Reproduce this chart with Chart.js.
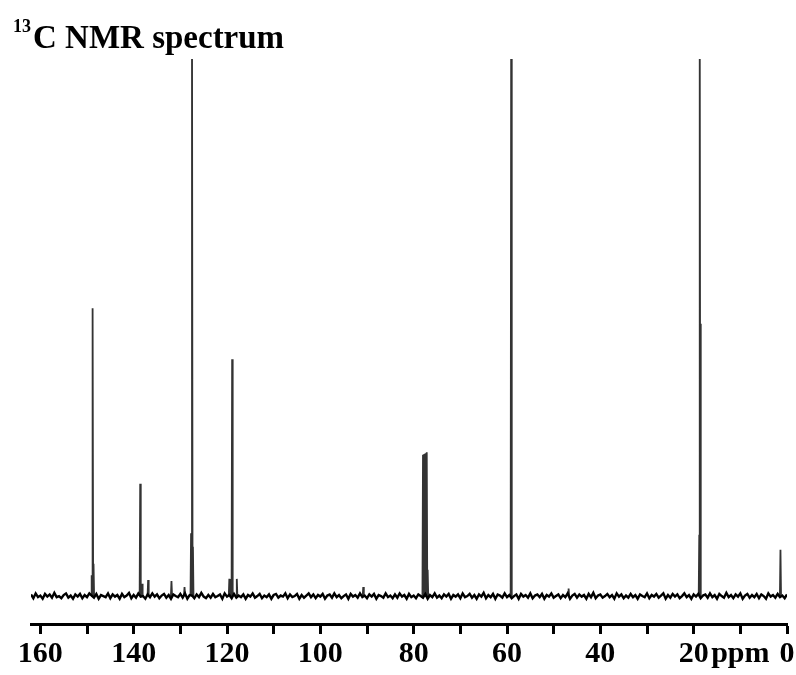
<!DOCTYPE html>
<html>
<head>
<meta charset="utf-8">
<script src="https://cdn.jsdelivr.net/npm/chart.js@4.4.1/dist/chart.umd.min.js"></script>
<style>
    html, body { margin: 0; padding: 0; background: #fff; }
    #wrap { position: relative; width: 796px; height: 675px; }
    .title { position: absolute; font-family: 'Liberation Serif', 'Times New Roman', serif; font-weight: bold; color: #000; white-space: nowrap; }
    #t13 { left: 13px; top: 17px; font-size: 18px; line-height: 18px; }
    #tMain { left: 33px; top: 21px; font-size: 33px; line-height: 33px; }
</style>
</head>
<body>
<div id="wrap">
    <canvas id="nmrChart" width="796" height="675"></canvas>
    <div class="title" id="t13">13</div>
    <div class="title" id="tMain">C NMR spectrum</div>
</div>
<script>
// peak positions (ppm) and heights (baseline = 0, top of plot = 100; >100 is off scale)
const peakPpm = [149.0, 148.8, 148.6, 138.6, 138.2, 136.9, 131.9, 129.1, 127.7, 127.5, 127.3,
    119.5, 118.9, 117.9, 90.8, 78.0, 77.8, 77.6, 77.4, 77.2, 77.0, 59.2, 59.1, 46.8, 18.8, 18.7, 18.6, 1.4];
const peakHeight = [3.9, 53.6, 6.0, 20.9, 2.3, 3.0, 2.8, 1.7, 11.7, 110, 9.2,
    3.2, 44.1, 3.2, 1.7, 26.3, 26.4, 26.5, 26.6, 26.8, 4.9, 8.6, 110, 1.4, 11.4, 110, 50.7, 8.6];

// baseline noise, one value per 0.5 ppm from 162 down to 0
const noiseStart = 162;
const noiseStep = 0.5;
const noise = [
    0.3, -0.4, 0.5, -0.2, 0.1, -0.5, 0.4, -0.1, 0.3, -0.3, 0.6, -0.2, 0.0,
    -0.4, 0.2, 0.5, -0.3, 0.1, -0.5, 0.3, -0.1, 0.4, -0.4, 0.2, -0.2, 0.5,
    0.1, -0.3, 0.4, -0.5, 0.2, 0.0, -0.2, 0.5, -0.4, 0.3, -0.1, 0.2, -0.5,
    0.4, -0.2, 0.1, 0.6, -0.4, 0.2, -0.3, 0.5, -0.1, 0.0, -0.5, 0.3, -0.2,
    0.5, -0.1, 0.3, -0.4, 0.1, 0.4, -0.3, 0.2, -0.5, 0.3, 0.0, -0.2, 0.4,
    -0.3, 0.5, -0.5, 0.2, 0.1, -0.4, 0.3, -0.2, 0.6, -0.1, -0.4, 0.2, -0.3,
    0.4, -0.2, 0.0, 0.3, -0.5, 0.5, -0.1, 0.2, -0.4, 0.4, -0.3, 0.1, -0.2,
    0.3, -0.5, 0.2, -0.1, 0.5, -0.3, 0.0, 0.4, -0.4, 0.1, -0.2, 0.3, -0.5,
    0.2, 0.4, -0.3, 0.1, -0.1, 0.5, -0.4, 0.3, -0.2, 0.0, 0.4, -0.5, 0.2,
    -0.3, 0.1, 0.5, -0.2, 0.3, -0.4, 0.2, -0.1, 0.4, -0.5, 0.1, 0.3, -0.3,
    0.5, -0.2, 0.2, -0.4, 0.0, 0.3, -0.5, 0.4, -0.1, 0.2, -0.3, 0.5, -0.2,
    0.1, -0.4, 0.3, -0.1, 0.4, -0.5, 0.2, 0.0, -0.3, 0.5, -0.2, 0.1, -0.4,
    0.3, -0.3, 0.5, -0.1, 0.2, -0.5, 0.4, -0.2, 0.1, -0.4, 0.3, 0.0, -0.3,
    0.4, -0.5, 0.2, -0.2, 0.5, -0.3, 0.1, -0.4, 0.3, -0.1, 0.4, -0.5, 0.2,
    -0.1, 0.3, -0.4, 0.5, -0.2, 0.0, 0.4, -0.3, 0.2, -0.5, 0.3, -0.1, 0.6,
    -0.4, 0.2, -0.2, 0.4, -0.5, 0.3, 0.1, -0.3, 0.5, -0.2, 0.2, -0.4, 0.0,
    0.3, -0.5, 0.4, -0.1, 0.2, -0.3, 0.5, -0.4, 0.1, 0.3, -0.2, 0.4, -0.5,
    0.2, -0.1, 0.5, -0.3, 0.0, 0.3, -0.4, 0.2, -0.2, 0.5, -0.5, 0.1, 0.4,
    -0.3, 0.3, -0.1, 0.2, -0.5, 0.4, -0.2, 0.6, -0.4, 0.1, 0.3, -0.3, 0.0,
    0.4, -0.2, 0.2, -0.5, 0.5, -0.1, 0.3, -0.4, 0.1, -0.3, 0.4, -0.2, 0.2,
    -0.5, 0.3, 0.0, -0.2, 0.5, -0.4, 0.2, -0.1, 0.4, -0.3, 0.1, 0.5, -0.5,
    0.2, -0.3, 0.4, -0.1, 0.3, -0.4, 0.0, 0.5, -0.2, 0.2, -0.5, 0.3, -0.1,
    0.4, -0.4, 0.1, 0.3, -0.3, 0.5, -0.2, 0.2, -0.5, 0.4, 0.0, -0.3, 0.6,
    -0.2, 0.2, -0.4, 0.3, -0.1, 0.5, -0.5, 0.1, 0.4, -0.3, 0.2, -0.2, 0.4,
    -0.4, 0.3, 0.0, -0.5, 0.5, -0.1, 0.2, -0.3, 0.4, -0.2, 0.1, -0.4, 0.3
];

const tickValues = [0, 10, 20, 30, 40, 50, 60, 70, 80, 90, 100, 110, 120, 130, 140, 150, 160];
const tickLabels = ['0', 'ppm', '20', '', '40', '', '60', '', '80', '', '100', '', '120', '', '140', '', '160'];

const baselinePoints = noise.map((v, i) => ({ x: noiseStart - i * noiseStep, y: v }));

const peakPoints = [];
peakPpm.forEach((p, i) => {
    peakPoints.push({ x: p + 0.12, y: 0 });
    peakPoints.push({ x: p, y: peakHeight[i] });
    peakPoints.push({ x: p - 0.12, y: 0 });
    peakPoints.push({ x: p - 0.12, y: null });
});

const axisFont = { family: "'Liberation Serif', 'Times New Roman', serif", size: 30, weight: 'bold', lineHeight: 1.1 };

const ctx = document.getElementById('nmrChart').getContext('2d');
const nmrChart = new Chart(ctx, {
    type: 'scatter',
    data: {
        datasets: [{
            label: 'baseline',
            data: baselinePoints,
            showLine: true,
            borderColor: '#000',
            borderWidth: 2.4,
            pointRadius: 0,
            tension: 0
        }, {
            label: 'peaks',
            data: peakPoints,
            showLine: true,
            spanGaps: false,
            borderColor: '#333',
            borderWidth: 1.8,
            pointRadius: 0,
            tension: 0
        }]
    },
    options: {
        responsive: false,
        animation: false,
        layout: {
            padding: { top: 59, left: 31, right: 9, bottom: 0 }
        },
        plugins: {
            legend: { display: false },
            tooltip: { enabled: false },
            title: { display: false }
        },
        scales: {
            x: {
                type: 'linear',
                min: 0,
                max: 162,
                reverse: true,
                afterBuildTicks: (scale) => {
                    scale.ticks = tickValues.map(v => ({ value: v }));
                },
                ticks: {
                    autoSkip: false,
                    maxRotation: 0,
                    padding: 4,
                    color: '#000',
                    font: axisFont,
                    callback: (value) => tickLabels[tickValues.indexOf(value)]
                },
                grid: {
                    drawOnChartArea: false,
                    drawTicks: true,
                    tickLength: 10,
                    tickWidth: 3,
                    tickColor: '#000'
                },
                border: { display: true, width: 3, color: '#000' }
            },
            y: {
                display: false,
                min: -5.2,
                max: 100
            }
        }
    }
});
</script>
</body>
</html>
